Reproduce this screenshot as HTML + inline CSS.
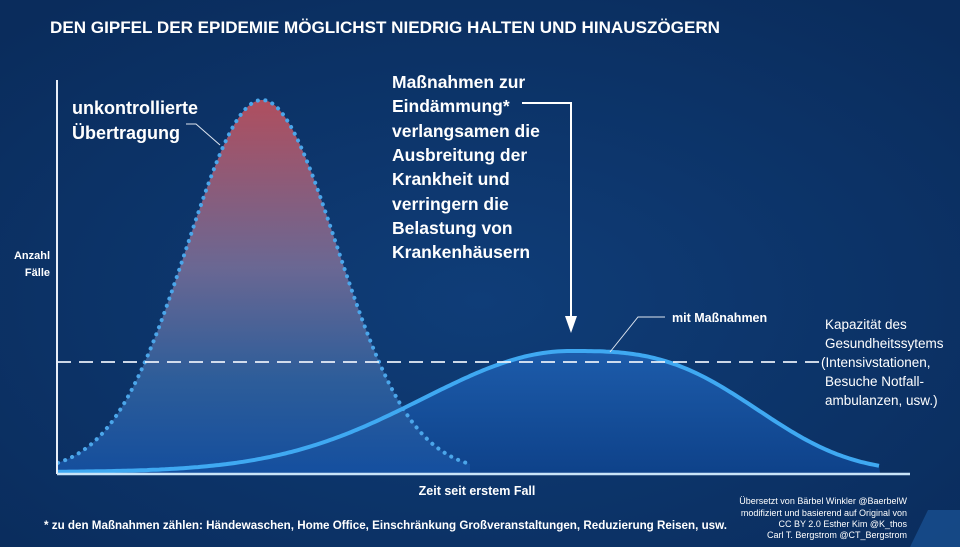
<!DOCTYPE html>
<html><head><meta charset="utf-8"><style>
body{margin:0;width:960px;height:547px;overflow:hidden;background:#0c3366;font-family:"Liberation Sans",sans-serif;}
svg{display:block}
.b{font-weight:bold;fill:#fff}
</style></head><body>
<svg id="s" width="960" height="547" viewBox="0 0 960 547">
<defs>
<radialGradient id="bg" cx="0.5" cy="0.55" r="0.7">
<stop offset="0" stop-color="#0f3d78"/><stop offset="1" stop-color="#0a2c5c"/>
</radialGradient>
<linearGradient id="rg" x1="0" y1="100" x2="0" y2="472" gradientUnits="userSpaceOnUse">
<stop offset="0" stop-color="#b8505e"/><stop offset="0.45" stop-color="#6f6a95"/><stop offset="0.75" stop-color="#2f5f9c"/><stop offset="1" stop-color="#1550a0"/>
</linearGradient>
<linearGradient id="bgr" x1="0" y1="350" x2="0" y2="472" gradientUnits="userSpaceOnUse">
<stop offset="0" stop-color="#1d5cab"/><stop offset="1" stop-color="#0e428a"/>
</linearGradient>
</defs>
<rect width="960" height="547" fill="url(#bg)"/>
<path d="M910 547 L960 547 L960 510 L928 510 Z" fill="#1d5aa0" opacity="0.6"/>
<text x="50" y="33" class="b" font-size="16.5" textLength="670" lengthAdjust="spacingAndGlyphs">DEN GIPFEL DER EPIDEMIE MÖGLICHST NIEDRIG HALTEN UND HINAUSZÖGERN</text>
<path id="bluefill" fill="url(#bgr)"/>
<path id="redfill" fill="url(#rg)" opacity="0.95"/>
<path id="redline" fill="none" stroke="#4ba6ea" stroke-width="4" stroke-dasharray="0.1 7.5" stroke-linecap="round"/>
<path id="blueline" fill="none" stroke="#3fa9f2" stroke-width="4"/>
<line x1="57" y1="80" x2="57" y2="474" stroke="#e8eef8" stroke-width="2"/>
<line x1="57" y1="474" x2="910" y2="474" stroke="#c9e4f8" stroke-width="2.5"/>
<line x1="57" y1="362" x2="820" y2="362" stroke="#e8eef8" stroke-width="1.8" stroke-dasharray="14 8"/>
<text x="50" y="259" class="b" font-size="11" text-anchor="end">Anzahl</text>
<text x="50" y="276" class="b" font-size="11" text-anchor="end">Fälle</text>
<text x="72" y="114" class="b" font-size="18">unkontrollierte</text>
<text x="72" y="139" class="b" font-size="18">Übertragung</text>
<polyline points="186,124 196,124 220,145" fill="none" stroke="#dfe6f0" stroke-width="1"/>
<g class="b" font-size="17.5">
<text x="392" y="88" class="b">Maßnahmen zur</text>
<text x="392" y="112" class="b">Eindämmung*</text>
<text x="392" y="137" class="b">verlangsamen die</text>
<text x="392" y="161" class="b">Ausbreitung der</text>
<text x="392" y="185" class="b">Krankheit und</text>
<text x="392" y="210" class="b">verringern die</text>
<text x="392" y="234" class="b">Belastung von</text>
<text x="392" y="258" class="b">Krankenhäusern</text>
</g>
<polyline points="522,103 571,103 571,318" fill="none" stroke="#fff" stroke-width="2"/>
<path d="M565 316 L577 316 L571 333 Z" fill="#fff"/>
<polyline points="665,317 638,317 610,352" fill="none" stroke="#dfe6f0" stroke-width="1"/>
<text x="672" y="322" class="b" font-size="12.5">mit Maßnahmen</text>
<g fill="#fff" font-size="13.5">
<text x="825" y="329">Kapazität des</text>
<text x="825" y="348">Gesundheitssytems</text>
<text x="821" y="367">(Intensivstationen,</text>
<text x="825" y="386">Besuche Notfall-</text>
<text x="825" y="405">ambulanzen, usw.)</text>
</g>
<text x="477" y="495" class="b" font-size="12.5" text-anchor="middle">Zeit seit erstem Fall</text>
<text x="44" y="529" class="b" font-size="12" textLength="683" lengthAdjust="spacingAndGlyphs">* zu den Maßnahmen zählen: Händewaschen, Home Office, Einschränkung Großveranstaltungen, Reduzierung Reisen, usw.</text>
<g fill="#fff" font-size="9" text-anchor="end">
<text x="907" y="504">Übersetzt von Bärbel Winkler @BaerbelW</text>
<text x="907" y="516">modifiziert und basierend auf Original von</text>
<text x="907" y="527">CC BY 2.0  Esther Kim  @K_thos</text>
<text x="907" y="538">Carl T. Bergstrom  @CT_Bergstrom</text>
</g>
</svg>
<script>
(function(){
var r=[],x;
for(x=58;x<=470;x+=2){var y=472-372*Math.exp(-Math.pow(x-262,2)/(2*75*75));r.push([x,y]);}
var rd="M"+r.map(function(p){return p[0].toFixed(1)+" "+p[1].toFixed(1)}).join(" L");
document.getElementById("redline").setAttribute("d",rd);
document.getElementById("redfill").setAttribute("d",rd+" L470 473 L58 473 Z");
var b=[];
for(x=57;x<=880;x+=3){var d=x-570,h;
if(d<0)h=Math.exp(-Math.pow(-d/208,2));else h=Math.exp(-Math.pow(d/215,3));
b.push([x,472-121*h]);}
var bd="M"+b.map(function(p){return p[0].toFixed(1)+" "+p[1].toFixed(1)}).join(" L");
document.getElementById("blueline").setAttribute("d",bd);
document.getElementById("bluefill").setAttribute("d",bd+" L880 473 L57 473 Z");
})();
</script>
</body></html>
